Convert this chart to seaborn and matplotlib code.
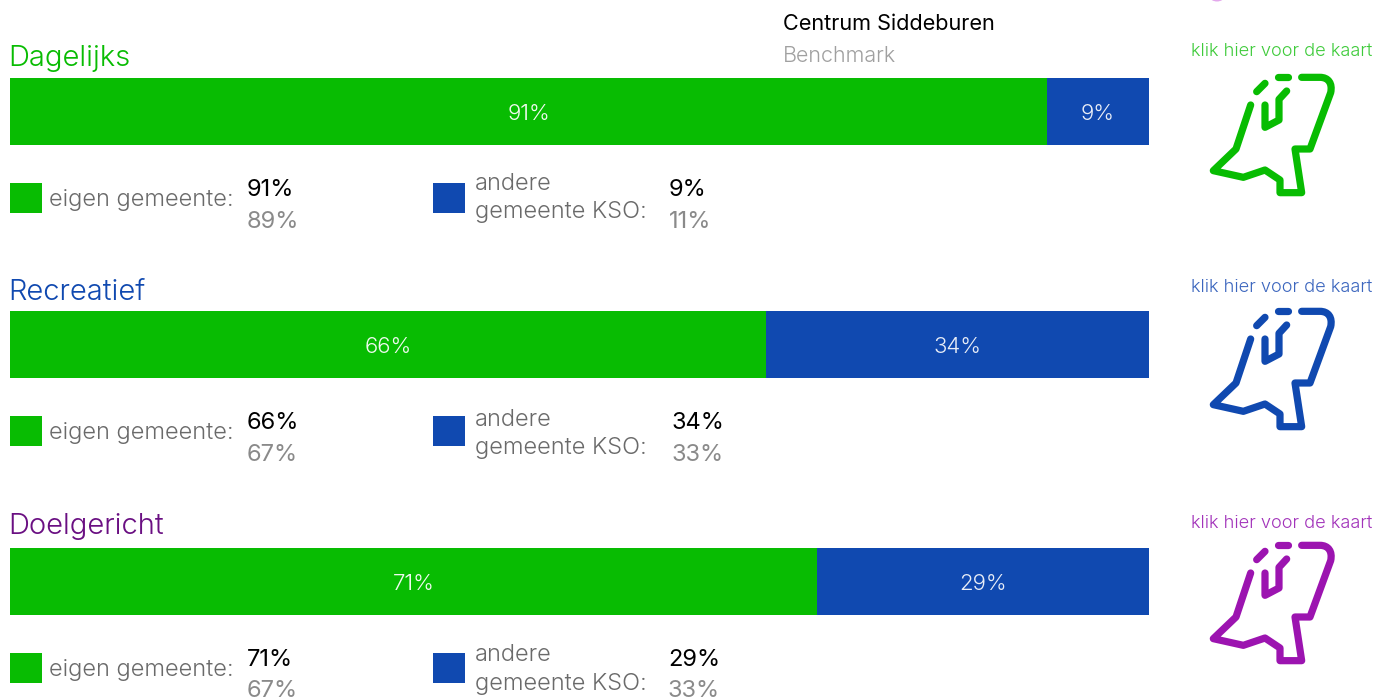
import matplotlib
matplotlib.use("Agg")
import matplotlib.pyplot as plt
from matplotlib.path import Path
from matplotlib.patches import PathPatch, Rectangle, Ellipse
import seaborn as sns
import pandas as pd

sns.set_theme(style="white")
FONT = ["Inter", "DejaVu Sans"]
plt.rcParams["font.family"] = FONT

W, H = 1375, 698
GREEN, BLUE = "#08BC02", "#1049B0"

categories = ["Dagelijks", "Recreatief", "Doelgericht"]
eigen_values = [91.05, 66.4, 70.85]
andere_values = [8.95, 33.6, 29.15]
eigen_labels = ["91%", "66%", "71%"]
andere_labels = ["9%", "34%", "29%"]
eigen_bench = ["89%", "67%", "67%"]
andere_bench = ["11%", "33%", "33%"]
title_colors = ["#08BC02", "#1049B0", "#6A0F82"]
icon_colors = ["#08BC02", "#1049B0", "#9C14B0"]
link_colors = ["#3FCB3B", "#3C66BE", "#A233BA"]

bar_tops = [78, 311, 548]
title_y = [59, 293, 527]
link_y = [52, 288, 523]
icon_dy = [0, 234, 468]
sq_tops = [183, 416, 653]
own_y = [190, 423, 660]
own_by = [222, 455, 691]
line1_y = [184, 420, 655]
line2_y = [212, 448, 684]
other_x = [669, 672, 668]
other_bx = [669, 672, 668]

fig = plt.figure(figsize=(W / 100, H / 100), dpi=100, facecolor="white")
ov = fig.add_axes([0, 0, 1, 1], zorder=5)
ov.set_xlim(0, W); ov.set_ylim(H, 0); ov.axis("off"); ov.patch.set_alpha(0)


def T(x, y, s, size, color, weight=300, ha="left"):
    ov.text(x, y, s, fontsize=size, color=color, fontweight=weight, ha=ha,
            va="center", family=FONT, clip_on=True)


def icon(dy, color):
    kw = dict(fill=False, edgecolor=color, lw=5.2, capstyle="round", joinstyle="round")
    M, L, C = Path.MOVETO, Path.LINETO, Path.CURVE4
    z = lambda a, b: (1180 + a / 3, b / 3 + dy)
    outer = [z(365, 232), z(420, 232), z(445, 232), z(458, 250), z(452, 278), z(390, 447),
             z(345, 447), z(365, 578), z(300, 578), z(300, 540), z(255, 510), z(190, 532),
             z(100, 512), z(168, 447), z(212, 315)]
    codes = [M, L, C, C, C] + [L] * 10
    ov.add_patch(PathPatch(Path(outer, codes), **kw))
    inner = [z(320, 273), z(297, 298), z(297, 360), z(255, 382), z(255, 315)]
    ov.add_patch(PathPatch(Path(inner, [M, L, L, L, L]), **kw))
    ov.add_patch(PathPatch(Path([z(230, 275), z(255, 250)], [M, L]), **kw))
    ov.add_patch(PathPatch(Path([z(295, 232), z(325, 232)], [M, L]), **kw))


T(783, 24, "Centrum Siddeburen", 15.6, "black", 400)
T(783, 56, "Benchmark", 15.5, "#A0A0A0")
ov.add_patch(Ellipse((1217, -3), 14, 9, color="#E3A8EC", lw=0))

for i, cat in enumerate(categories):
    ax = fig.add_axes([10 / W, 1 - (bar_tops[i] + 67) / H, 1139 / W, 67 / H])
    df = pd.DataFrame({"cat": [cat], "eigen": [eigen_values[i]],
                       "totaal": [eigen_values[i] + andere_values[i]]})
    sns.barplot(data=df, x="totaal", y="cat", color=BLUE, saturation=1, width=1, ax=ax, linewidth=0)
    sns.barplot(data=df, x="eigen", y="cat", color=GREEN, saturation=1, width=1, ax=ax, linewidth=0)
    ax.set_xlim(0, 100); ax.set_ylim(0.5, -0.5); ax.axis("off")
    ax.text(eigen_values[i] / 2, 0.03, eigen_labels[i], color="#F0FAF0", fontsize=16,
            fontweight=300, ha="center", va="center", family=FONT)
    ax.text(eigen_values[i] + andere_values[i] / 2, 0.03, andere_labels[i], color="#E8EDF7",
            fontsize=16, fontweight=300, ha="center", va="center", family=FONT)

    T(8.5, title_y[i], cat, 21, title_colors[i], 300)
    T(1282, link_y[i], "klik hier voor de kaart", 13.1, link_colors[i], ha="center")
    icon(icon_dy[i], icon_colors[i])

    ov.add_patch(Rectangle((10, sq_tops[i]), 32, 30, color=GREEN, lw=0))
    ov.add_patch(Rectangle((433, sq_tops[i]), 32, 30, color=BLUE, lw=0))
    T(49, sq_tops[i] + 17, "eigen gemeente:", 17, "#6A6A6A")
    T(475, line1_y[i], "andere", 17, "#6A6A6A")
    T(475, line2_y[i], "gemeente KSO:", 17, "#6A6A6A")
    T(247, own_y[i], eigen_labels[i], 17, "black", 400)
    T(247, own_by[i], eigen_bench[i], 17, "#8A8A8A", 400)
    T(other_x[i], own_y[i], andere_labels[i], 17, "black", 400)
    T(other_bx[i], own_by[i], andere_bench[i], 17, "#8A8A8A", 400)

fig.savefig("out.png", dpi=100, facecolor="white")
